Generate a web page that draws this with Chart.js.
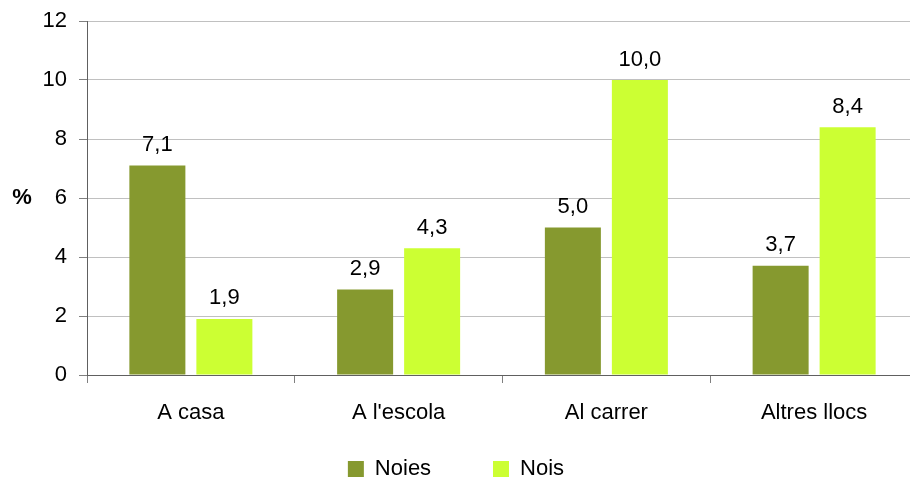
<!DOCTYPE html>
<html><head><meta charset="utf-8">
<script src="https://cdn.jsdelivr.net/npm/chart.js@4/dist/chart.umd.min.js"></script>
<style>html,body{margin:0;padding:0;background:#fff;overflow:hidden;width:910px;height:481px}</style>
</head><body>
<canvas id="c" width="918" height="481"></canvas>
<script>
const categories = ['A casa', "A l'escola", 'Al carrer', 'Altres llocs'];
const seriesNames = ['Noies', 'Nois'];
const noies = [7.1, 2.9, 5.0, 3.7];
const nois = [1.9, 4.3, 10.0, 8.4];
const yMin = 0, yMax = 12, yStep = 2;
const yTitle = '%';

const FONT = '"Liberation Sans", Arial, sans-serif';
const FS = 22;
Chart.defaults.font.family = FONT;
Chart.defaults.font.size = FS;
Chart.defaults.color = '#000';

const valueLabels = {
  id: 'valueLabels',
  afterDatasetsDraw(chart) {
    const ctx = chart.ctx;
    ctx.save();
    ctx.font = FS + 'px ' + FONT;
    ctx.fillStyle = '#000';
    ctx.textAlign = 'center';
    ctx.textBaseline = 'alphabetic';
    chart.data.datasets.forEach((ds, i) => {
      chart.getDatasetMeta(i).data.forEach((bar, j) => {
        ctx.fillText(ds.data[j].toFixed(1).replace('.', ','), bar.x, bar.y - 14.5);
      });
    });
    ctx.restore();
  }
};

const yTitlePlugin = {
  id: 'yTitlePlugin',
  afterDraw(chart) {
    const ctx = chart.ctx;
    const y = chart.scales.y.getPixelForValue((yMin + yMax) / 2);
    ctx.save();
    ctx.font = 'bold ' + FS + 'px ' + FONT;
    ctx.fillStyle = '#000';
    ctx.textAlign = 'center';
    ctx.textBaseline = 'middle';
    ctx.fillText(yTitle, 22, y);
    ctx.restore();
  }
};

new Chart(document.getElementById('c'), {
  type: 'bar',
  data: {
    labels: categories,
    datasets: [
      { label: seriesNames[0], data: noies, backgroundColor: '#86992f', borderWidth: 0 },
      { label: seriesNames[1], data: nois, backgroundColor: '#ccff33', borderWidth: 0 }
    ]
  },
  options: {
    responsive: false,
    animation: false,
    categoryPercentage: 0.645,
    barPercentage: 0.836,
    layout: { padding: { top: 21, left: 0, right: 0, bottom: 0 } },
    plugins: {
      tooltip: { enabled: false },
      legend: {
        position: 'bottom',
        maxHeight: 36,
        labels: {
          boxWidth: 16,
          boxHeight: 16,
          padding: 13,
          font: { size: FS },
          color: '#000',
          generateLabels(chart) {
            const items = Chart.defaults.plugins.legend.labels.generateLabels(chart);
            items.forEach((it, i) => {
              it.text = it.text + '\u00a0'.repeat(i < items.length - 1 ? 8 : 1);
              it.lineWidth = 0;
            });
            return items;
          }
        }
      }
    },
    scales: {
      x: {
        offset: true,
        grid: { display: true, offset: true, drawOnChartArea: false, drawTicks: true, tickLength: 8, color: '#808080' },
        border: { display: true, color: '#606060', width: 1 },
        ticks: { padding: 17, font: { size: FS }, color: '#000', maxRotation: 0 },
        afterFit(scale) { scale.height = 70; scale.paddingRight = 0; scale.paddingLeft = 0; }
      },
      y: {
        min: yMin, max: yMax,
        ticks: { stepSize: yStep, padding: 12, font: { size: FS }, color: '#000' },
        grid: { color: '#c0c0c0', tickColor: '#808080', tickLength: 8 },
        border: { display: true, color: '#606060', width: 1 },
        afterFit(scale) { scale.width = 87; scale.paddingTop = 0; scale.paddingBottom = 0; }
      }
    }
  },
  plugins: [valueLabels, yTitlePlugin]
});
</script>
</body></html>
